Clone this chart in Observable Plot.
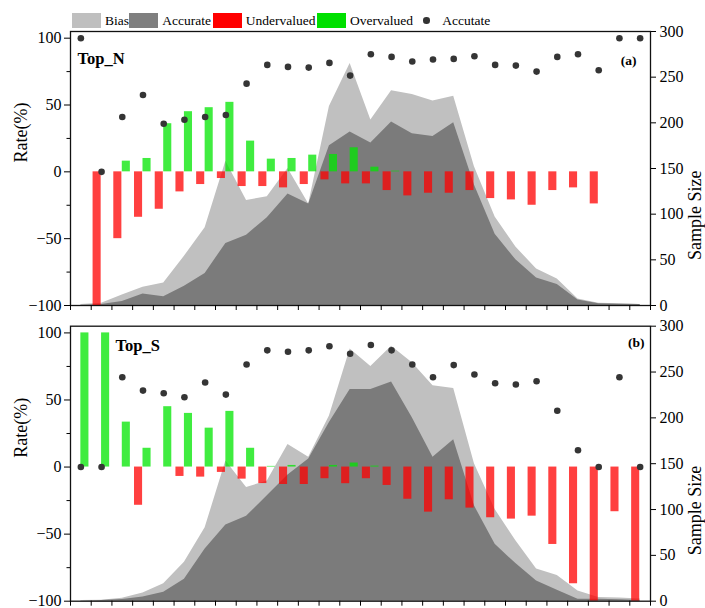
<!DOCTYPE html>
<html><head><meta charset="utf-8">
<script src="https://cdn.jsdelivr.net/npm/d3@7"></script>
<script src="https://cdn.jsdelivr.net/npm/@observablehq/plot@0.6"></script>
<style>
html,body{margin:0;padding:0;background:#fff;}
#chart{position:relative;width:705px;height:608px;font-family:"Liberation Serif","Times New Roman",Times,"DejaVu Serif",serif;overflow:hidden;}
#chart svg{position:absolute;left:0;}
#chart svg, #chart svg text{font-family:"Liberation Serif","Times New Roman",Times,"DejaVu Serif",serif !important;}
.leg{position:absolute;font-size:13.5px;line-height:16px;height:16px;white-space:nowrap;color:#000;}
</style></head><body><div id="chart"></div>
<script>
// ---- data ----
const bins = [1,2,3,4,5,6,7,8,9,10,11,12,13,14,15,16,17,18,19,20,21,22,23,24,25,26,27,28];

// Top_N
const topTotal    = [1, 2.5, 11.5, 20, 24.5, 54, 85, 158, 115, 119, 150, 111, 218, 265, 203, 235, 231, 224, 229, 152, 97, 64, 40, 29, 7, 2.5, 2, 1];
const topAccurate = [0, 1, 4.5, 12.5, 9.5, 21, 35, 68, 77, 96, 122, 111, 175, 190, 178, 201, 188, 185, 200, 132, 78, 50, 30, 23, 6, 2, 1.5, 1];
const topAccRate  = [100, 0, 41, 57.5, 36, 39, 41, 42.5, 66, 80, 78.5, 78, 81.5, 72, 88, 86, 82.5, 84, 84.5, 86.5, 80, 79.5, 75, 86, 88, 76, 100, 100];
const topUnder    = [null, -100, -50, -34, -28, -15, -9.5, -5, -11, -11, -12, -9.5, -6, -9, -9, -14, -18, -16, -16, -14, -20, -21, -25, -14, -12, -24, null, null];
const topOver     = [null, null, 8, 10, 36, 45, 48, 52, 23, 9.5, 10, 12.5, 13, 18, 3.5, 0.5, null, null, null, null, null, null, null, null, null, null, null, null];

// Top_S
const botTotal    = [0.7, 1, 3.3, 9, 19, 42.5, 80, 153, 124, 131, 171, 157, 202, 275, 256, 278, 260, 235, 232, 150, 100, 66, 35, 28, 11, 4, 3.5, 2.5];
const botAccurate = [0, 0.7, 1.8, 4.7, 9.8, 24, 57, 83, 92.6, 115, 137.6, 155, 195, 231, 231, 239, 200, 157, 176, 104, 62, 41, 22, 12, 2, 2, 1.5, 0.7];
const botAccRate  = [0, 0, 67, 57, 55, 52, 63, 54, 76.5, 87, 86, 87, 90, 84.5, 91, 87, 76.5, 67, 76, 69, 62.5, 61.5, 64, 42, 12.5, 0, 67, 0];
const botUnder    = [null, null, null, -28.5, null, -7, -7.5, -4, -9, -12.3, -13, -13, -8.7, -12.4, -8.7, -13.7, -24, -33.6, -24.4, -30.6, -37.8, -38.8, -36.6, -57.7, -87, -100, -33.3, -100];
const botOver     = [100, 100, 33.5, 14, 45, 40, 29, 41.5, 14, 0.5, 1.2, null, 1.2, 3, 0.7, null, null, null, null, null, null, null, null, null, null, null, null, null];

const rateTicks   = [-100, -50, 0, 50, 100];
const rateMinor   = [-75, -25, 25, 75];
const sampleTicks = [0, 50, 100, 150, 200, 250, 300];

const legendItems = [
  {label: "Bias", kind: "rect", color: "#bfbfbf"},
  {label: "Accurate", kind: "rect", color: "#7f7f7f"},
  {label: "Undervalued", kind: "rect", color: "#ff0000"},
  {label: "Overvalued", kind: "rect", color: "#00e000"},
  {label: "Accutate", kind: "dot", color: "#333333"}
];

// ---- styles ----
const LIGHT = "#c0c0c0", DARK = "#7b7b7b", RED = "#ff0000", GREEN = "#00e600", DOT = "#353535";
const STYLE = "background:none;overflow:visible;font-size:16px;color:#000;";
const W = 705, ML = 70, MR = 55;
const chart = document.getElementById("chart");

// legend
const legPos = [[72, 105], [129, 162.3], [212.7, 245.7], [317.3, 350], [426.7, 442.3]];
legendItems.forEach((it, k) => {
  const [sx, tx] = legPos[k];
  const sw = document.createElement("div");
  sw.className = "leg";
  if (it.kind === "rect") {
    Object.assign(sw.style, {left: sx + "px", top: "13.3px", width: "29px", height: "14.4px", background: it.color});
  } else {
    Object.assign(sw.style, {left: (sx - 3.3) + "px", top: "17.2px", width: "6.6px", height: "6.6px", borderRadius: "50%", background: it.color});
  }
  chart.appendChild(sw);
  const t = document.createElement("div");
  t.className = "leg";
  Object.assign(t.style, {left: tx + "px", top: "12.5px"});
  t.textContent = it.label;
  chart.appendChild(t);
});

function panel(o) {
  const rows = bins.map((b, i) => ({i, bin: b, total: o.total[i], acc: o.acc[i], rate: o.rate[i], under: o.under[i], over: o.over[i]}));
  const boundaries = [-0.5, ...bins.map((b, i) => i + 0.5)];
  const common = {
    width: W, height: o.height, marginLeft: ML, marginRight: MR, marginTop: o.mt, marginBottom: o.mb,
    x: {domain: [-0.5, bins.length - 0.5], axis: null},
    style: STYLE
  };
  const a = Plot.plot({
    ...common,
    y: {domain: [0, 300], axis: null, label: null},
    marks: [
      Plot.areaY(rows, {x: "i", y: "total", fill: LIGHT}),
      Plot.areaY(rows, {x: "i", y: "acc", fill: DARK}),
      Plot.axisY(sampleTicks, {anchor: "right", tickSize: 5, tickPadding: 4, label: null, stroke: "#000"}),
      Plot.text(["Sample Size"], {text: d => d, frameAnchor: "right", dx: 45, dy: 2, rotate: -90, fontSize: 18, fill: "#000"})
    ]
  });
  const bMarks = [
    Plot.rect(rows.filter(d => d.under != null), {x1: d => d.i - 0.41, x2: d => d.i - 0.02, y1: 0, y2: "under", fill: RED, fillOpacity: 0.75}),
    Plot.rect(rows.filter(d => d.over != null), {x1: "i", x2: d => d.i + 0.39, y1: 0, y2: "over", fill: GREEN, fillOpacity: 0.75}),
    Plot.dot(rows, {x: "i", y: "rate", r: 3.3, fill: DOT, stroke: "none"}),
    Plot.frame({stroke: "#111", strokeWidth: 1.3}),
    Plot.axisY(rateTicks, {anchor: "left", tickSize: 6, tickPadding: 3, label: null, stroke: "#000"}),
    Plot.axisY(rateMinor, {anchor: "left", tickSize: 3.5, tickFormat: () => "", label: null, stroke: "#000"}),
    Plot.axisX(boundaries, {anchor: "bottom", tickSize: 5, tickFormat: () => "", label: null, stroke: "#000"}),
    Plot.text(["Rate(%)"], {text: d => d, frameAnchor: "left", dx: -49, dy: -6, rotate: -90, fontSize: 18, fill: "#000"}),
    Plot.text([o.name], {text: d => d, frameAnchor: "top-left", textAnchor: "start", lineAnchor: "middle", dx: o.nameDx, dy: o.nameDy, fontSize: 16.5, fontWeight: "bold", fill: "#000"}),
    Plot.text([o.tag], {text: d => d, frameAnchor: "top-right", textAnchor: "end", lineAnchor: "middle", dx: o.tagDx, dy: o.tagDy, fontSize: 13.5, fontWeight: "bold", fill: "#000"})
  ];
  const b = Plot.plot({
    ...common,
    y: {domain: [-100, 105], axis: null, label: null},
    marks: bMarks
  });
  for (const s of [a, b]) {
    s.style.position = "absolute";
    s.style.top = o.top + "px";
    s.style.left = "0px";
    chart.appendChild(s);
  }
}

panel({total: topTotal, acc: topAccurate, rate: topAccRate, under: topUnder, over: topOver,
  name: "Top_N", tag: "(a)", top: 29, height: 287, mt: 2, mb: 11, nameDx: 7, nameDy: 27.3, tagDx: -14, tagDy: 29.5});
panel({total: botTotal, acc: botAccurate, rate: botAccRate, under: botUnder, over: botOver,
  name: "Top_S", tag: "(b)", top: 316, height: 292, mt: 9.7, mb: 7.3, nameDx: 45, nameDy: 19.3, tagDx: -6, tagDy: 16.5});
</script></body></html>
